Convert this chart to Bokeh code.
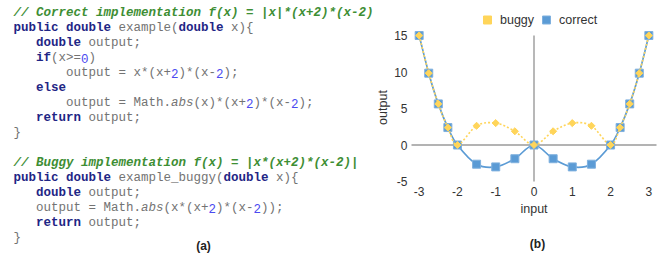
from bokeh.plotting import figure
from bokeh.models import (Legend, LegendItem, FixedTicker, Range1d, ColumnDataSource,
                          CustomJSTickFormatter, LinearAxis)
from bokeh.core.properties import value
from bokeh.embed import file_html
from bokeh.resources import INLINE

# ---------------- data ----------------
x_vals = [-3, -2.75, -2.5, -2.25, -2, -1.5, -1, -0.5, 0, 0.5, 1, 1.5, 2, 2.25, 2.5, 2.75, 3]
correct_vals = [15, 9.84, 5.63, 2.39, 0, -2.63, -3, -1.88, 0, -1.88, -3, -2.63, 0, 2.39, 5.63, 9.84, 15]
buggy_vals = [15, 9.84, 5.63, 2.39, 0, 2.63, 3, 1.88, 0, 1.88, 3, 2.63, 0, 2.39, 5.63, 9.84, 15]
x_ticks = [-3, -2, -1, 0, 1, 2, 3]
y_ticks = [-5, 0, 5, 10, 15]
series_names = ["buggy", "correct"]
x_title = "input"
y_title = "output"

# code listing: (text, style) tokens per line
code_lines = [
    [("// Correct implementation f(x) = |x|*(x+2)*(x-2)", "comment")],
    [("public double", "kw"), (" example(", "plain"), ("double", "kw"), (" x){", "plain")],
    [("   ", "plain"), ("double", "kw"), (" output;", "plain")],
    [("   ", "plain"), ("if", "kw"), ("(x>=", "plain"), ("0", "num"), (")", "plain")],
    [("       output = x*(x+", "plain"), ("2", "num"), (")*(x-", "plain"), ("2", "num"), (");", "plain")],
    [("   ", "plain"), ("else", "kw")],
    [("       output = Math.", "plain"), ("abs", "ital"), ("(x)*(x+", "plain"), ("2", "num"),
     (")*(x-", "plain"), ("2", "num"), (");", "plain")],
    [("   ", "plain"), ("return", "kw"), (" output;", "plain")],
    [("}", "plain")],
    [],
    [("// Buggy implementation f(x) = |x*(x+2)*(x-2)|", "comment")],
    [("public double", "kw"), (" example_buggy(", "plain"), ("double", "kw"), (" x){", "plain")],
    [("   ", "plain"), ("double", "kw"), (" output;", "plain")],
    [("   output = Math.", "plain"), ("abs", "ital"), ("(x*(x+", "plain"), ("2", "num"),
     (")*(x-", "plain"), ("2", "num"), ("));", "plain")],
    [("   ", "plain"), ("return", "kw"), (" output;", "plain")],
    [("}", "plain")],
]
caption_a = "(a)"
caption_b = "(b)"

styles = {
    "comment": dict(color="#3E8E34", style="bold italic"),
    "kw": dict(color="#1E2585", style="bold"),
    "plain": dict(color="#737373", style="normal"),
    "num": dict(color="#4B4BF0", style="normal"),
    "ital": dict(color="#737373", style="italic"),
}

BLUE = "#5B9BD5"
BLUE_EDGE = "#7FB0DE"
GOLD = "#FFD55A"
AXIS_GREY = "#9A9A9A"
W, H = 658, 256
# chart area in page pixels
CH_L, CH_R, CH_T, CH_B = 411, 656, 35, 181
XMIN, XMAX, YMIN, YMAX = -3.2, 3.2, -5, 15
kx = (CH_R - CH_L) / (XMAX - XMIN)
ky = (CH_B - CH_T) / (YMAX - YMIN)

p = figure(width=W, height=H, output_backend="svg", toolbar_location=None,
           x_range=Range1d(XMIN - CH_L / kx, XMAX + (W - CH_R) / kx),
           y_range=Range1d(YMIN - (H - CH_B) / ky, YMAX + CH_T / ky),
           x_axis_type=None, y_axis_type=None,
           min_border_left=0, min_border_right=0, min_border_top=0, min_border_bottom=0)
p.title.visible = False
p.xgrid.visible = False
p.ygrid.visible = False
p.outline_line_color = None
p.extra_x_ranges = {"px": Range1d(0, W)}
p.extra_y_ranges = {"px": Range1d(H, 0)}

fmt = CustomJSTickFormatter(code="return String(tick);")
xaxis = LinearAxis(fixed_location=YMIN, ticker=FixedTicker(ticks=x_ticks), formatter=fmt)
yaxis = LinearAxis(fixed_location=XMIN, ticker=FixedTicker(ticks=y_ticks), formatter=fmt)
for ax in (xaxis, yaxis):
    ax.axis_line_color = None
    ax.major_tick_line_color = None
    ax.minor_tick_line_color = None
    ax.major_tick_out = 0
    ax.major_tick_in = 0
    ax.minor_tick_out = 0
    ax.minor_tick_in = 0
    ax.major_label_text_font = "Liberation Sans"
    ax.major_label_text_font_size = "12px"
    ax.major_label_text_color = "#333333"
xaxis.major_label_standoff = 5
yaxis.major_label_standoff = 4
p.add_layout(xaxis, "below")
p.add_layout(yaxis, "left")

# axis titles, centred on the chart area
p.text(x=[(CH_L + CH_R) / 2], y=[208], text=[x_title], text_font=value("Liberation Sans"),
       text_font_size="12.5px", text_color="#333333", text_baseline="middle", text_align="center",
       x_range_name="px", y_range_name="px")
p.text(x=[382], y=[107], text=[y_title], angle=1.5707963, text_font=value("Liberation Sans"),
       text_font_size="12.5px", text_color="#333333", text_baseline="middle", text_align="center",
       x_range_name="px", y_range_name="px")

# zero lines (axes crossing at the origin)
p.segment(x0=[0], y0=[YMIN], x1=[0], y1=[YMAX], line_color=AXIS_GREY, line_width=1.4)
p.segment(x0=[XMIN], y0=[0], x1=[XMAX], y1=[0], line_color=AXIS_GREY, line_width=1.4)


def smooth_segments(xs, ys):
    pts = list(zip(xs, ys))
    n = len(pts)
    d = dict(x0=[], y0=[], x1=[], y1=[], cx0=[], cy0=[], cx1=[], cy1=[])
    for i in range(n - 1):
        pm = pts[max(i - 1, 0)]
        a = pts[i]
        b = pts[i + 1]
        pn = pts[min(i + 2, n - 1)]
        d["x0"].append(a[0]); d["y0"].append(a[1])
        d["x1"].append(b[0]); d["y1"].append(b[1])
        d["cx0"].append(a[0] + (b[0] - pm[0]) / 6.0)
        d["cy0"].append(a[1] + (b[1] - pm[1]) / 6.0)
        d["cx1"].append(b[0] - (pn[0] - a[0]) / 6.0)
        d["cy1"].append(b[1] - (pn[1] - a[1]) / 6.0)
    return ColumnDataSource(d)


src_c = smooth_segments(x_vals, correct_vals)
src_b = smooth_segments(x_vals, buggy_vals)

p.bezier(x0="x0", y0="y0", x1="x1", y1="y1", cx0="cx0", cy0="cy0", cx1="cx1", cy1="cy1",
         source=src_c, line_color=BLUE, line_width=1.7)
r_c = p.scatter(x_vals, correct_vals, marker="square", size=8, fill_color=BLUE,
                line_color=BLUE_EDGE, line_width=1)
p.bezier(x0="x0", y0="y0", x1="x1", y1="y1", cx0="cx0", cy0="cy0", cx1="cx1", cy1="cy1",
         source=src_b, line_color=GOLD, line_width=1.6, line_dash="2 2")
r_b = p.scatter(x_vals, buggy_vals, marker="square", angle=0.785398, size=5,
                fill_color=GOLD, line_color=GOLD)

legend = Legend(items=[LegendItem(label=series_names[0], renderers=[r_b]),
                       LegendItem(label=series_names[1], renderers=[r_c])],
                location=(477, H - 30), orientation="horizontal",
                padding=0, margin=0, spacing=2, label_standoff=3,
                glyph_width=20, glyph_height=21, label_height=20,
                border_line_color=None, background_fill_alpha=0,
                label_text_font="Liberation Sans", label_text_font_size="12.5px",
                label_text_color="#333333")
p.add_layout(legend)

# ---------------- code listing (pixel-unit extra ranges) ----------------
CHAR_W = 7.5
X0 = 13
groups = {k: dict(x=[], y=[], t=[]) for k in styles}
for i, toks in enumerate(code_lines):
    col = 0
    for text, st in toks:
        lead = len(text) - len(text.lstrip(" "))
        body = text.strip(" ")
        if body:
            groups[st]["x"].append(X0 + (col + lead) * CHAR_W)
            groups[st]["y"].append(12.5 + 15 * i)
            groups[st]["t"].append(body)
        col += len(text)
for st, g in groups.items():
    if g["t"]:
        p.text(x=g["x"], y=g["y"], text=g["t"], text_font=value("Liberation Mono"),
               text_font_size="12.5px", text_font_style=styles[st]["style"],
               text_color=styles[st]["color"], text_baseline="middle", text_align="left",
               x_range_name="px", y_range_name="px")

p.text(x=[203, 537], y=[245, 243], text=[caption_a, caption_b], text_font=value("Liberation Sans"),
       text_font_size="12px", text_font_style="bold", text_color="#222222",
       text_baseline="middle", text_align="center", x_range_name="px", y_range_name="px")

open("out.html", "w").write(file_html(p, INLINE))
